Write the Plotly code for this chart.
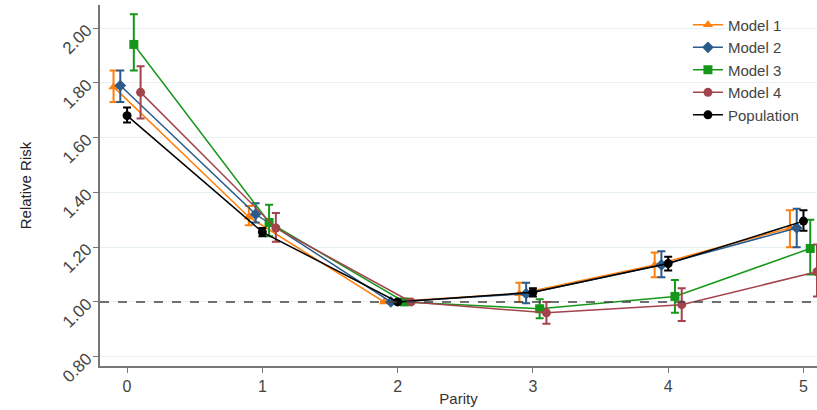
import plotly.graph_objects as go

parity = [0, 1, 2, 3, 4, 5]
offsets = {"Model 1": -0.1, "Model 2": -0.05, "Model 3": 0.05, "Model 4": 0.1, "Population": 0.0}

m1 = [1.785, 1.31, 1.00, 1.03, 1.135, 1.27]
m1_lo = [1.73, 1.28, 1.00, 1.00, 1.09, 1.20]
m1_hi = [1.845, 1.35, 1.00, 1.07, 1.18, 1.335]

m2 = [1.79, 1.32, 1.00, 1.03, 1.135, 1.27]
m2_lo = [1.73, 1.29, 1.00, 0.995, 1.09, 1.20]
m2_hi = [1.845, 1.36, 1.00, 1.07, 1.185, 1.34]

m3 = [1.94, 1.29, 1.00, 0.975, 1.02, 1.195]
m3_lo = [1.845, 1.24, 1.00, 0.94, 0.96, 1.10]
m3_hi = [2.05, 1.355, 1.00, 1.01, 1.08, 1.30]

m4 = [1.765, 1.27, 1.00, 0.96, 0.99, 1.11]
m4_lo = [1.67, 1.22, 1.00, 0.92, 0.93, 1.02]
m4_hi = [1.86, 1.325, 1.00, 1.00, 1.05, 1.21]

pop = [1.68, 1.255, 1.00, 1.035, 1.14, 1.295]
pop_lo = [1.655, 1.24, 1.00, 1.02, 1.115, 1.26]
pop_hi = [1.71, 1.27, 1.00, 1.05, 1.165, 1.335]

series = [
    ("Model 1", m1, m1_lo, m1_hi, "#ff7f0e", "triangle-up"),
    ("Model 2", m2, m2_lo, m2_hi, "#2b5b8b", "diamond"),
    ("Model 3", m3, m3_lo, m3_hi, "#17971a", "square"),
    ("Model 4", m4, m4_lo, m4_hi, "#a3434c", "circle"),
    ("Population", pop, pop_lo, pop_hi, "#000000", "circle"),
]

fig = go.Figure()
for name, v, lo, hi, col, sym in series:
    xs = [p + offsets[name] for p in parity]
    fig.add_trace(go.Scatter(
        x=xs, y=v, name=name, mode="lines+markers",
        line=dict(color=col, width=1.5),
        marker=dict(color=col, symbol=sym, size=9),
        error_y=dict(type="data", symmetric=False,
                     array=[h - c for h, c in zip(hi, v)],
                     arrayminus=[c - l for c, l in zip(v, lo)],
                     color=col, thickness=2, width=4),
    ))

fig.add_hline(y=1.0, line=dict(color="#444444", width=1.5, dash="dash"))

fig.update_layout(
    width=817, height=410,
    margin=dict(l=100, r=0, t=5, b=44),
    paper_bgcolor="white", plot_bgcolor="white",
    font=dict(family="Liberation Sans, Arial, sans-serif", color="#333333"),
    legend=dict(x=0.82, y=0.99, xanchor="left", yanchor="top",
                font=dict(size=15, color="#444444"), bgcolor="rgba(0,0,0,0)"),
    xaxis=dict(range=[-0.2, 5.1], tickvals=parity, ticktext=[str(p) for p in parity],
               showgrid=False, zeroline=False, showline=True, linecolor="#777777", linewidth=1.5,
               ticks="outside", ticklen=5, tickcolor="#777777",
               tickfont=dict(size=16, color="#444444"),
               title=dict(text="Parity", font=dict(size=15, color="#333333"), standoff=0)),
    yaxis=dict(range=[0.766, 2.084], tickvals=[0.8, 1.0, 1.2, 1.4, 1.6, 1.8, 2.0],
               tickformat=".2f", tickangle=-45, ticklabelstandoff=3,
               showgrid=True, gridcolor="#e8f1f2", gridwidth=1, zeroline=False,
               showline=True, linecolor="#777777", linewidth=1.5,
               ticks="outside", ticklen=5, tickcolor="#777777",
               tickfont=dict(size=17, color="#444444"),
               title=dict(text="Relative Risk", font=dict(size=15, color="#222222"), standoff=24)),
)

fig.write_html("out.html")
